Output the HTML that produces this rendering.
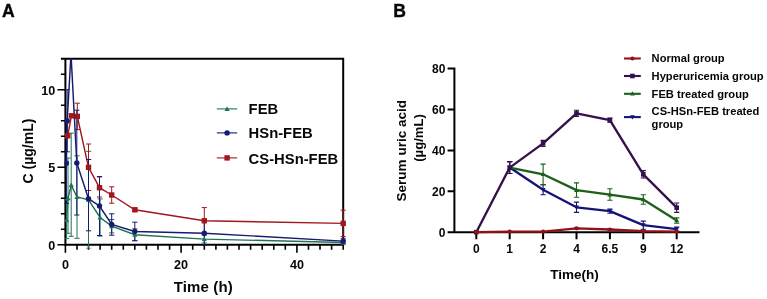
<!DOCTYPE html>
<html lang="en">
<head>
<meta charset="utf-8">
<title>Figure</title>
<style>
html,body{margin:0;padding:0;background:#fff;}
body{width:767px;height:299px;overflow:hidden;}
svg{display:block;}
svg text{font-family:"Liberation Sans",sans-serif;font-weight:bold;fill:#060606;}
</style>
</head>
<body>
<svg width="767" height="299" viewBox="0 0 767 299">
<defs><clipPath id="clipA"><rect x="64.4" y="58.2" width="282.79999999999995" height="190.39999999999998"/></clipPath></defs>
<rect width="767" height="299" fill="#fff"/>
<g id="chartA">
<path d="M65.4 58.7V244.8H343.2V58.7H60.9" fill="none" stroke="#000" stroke-width="2"/>
<path d="M65.4 244.8h-8M65.4 229.3h-4.5M65.4 213.8h-4.5M65.4 198.3h-4.5M65.4 182.8h-4.5M65.4 167.3h-8M65.4 151.8h-4.5M65.4 136.2h-4.5M65.4 120.7h-4.5M65.4 105.2h-4.5M65.4 89.7h-8M65.4 74.2h-4.5" stroke="#000" stroke-width="1.6" fill="none"/>
<path d="M65.4 244.8v8.0M77.0 244.8v4.9M88.5 244.8v4.9M100.1 244.8v4.9M111.7 244.8v4.9M123.3 244.8v4.9M134.8 244.8v4.9M146.4 244.8v4.9M158.0 244.8v4.9M169.6 244.8v4.9M181.1 244.8v8.0M192.7 244.8v4.9M204.3 244.8v4.9M215.9 244.8v4.9M227.4 244.8v4.9M239.0 244.8v4.9M250.6 244.8v4.9M262.2 244.8v4.9M273.8 244.8v4.9M285.3 244.8v4.9M296.9 244.8v8.0M308.5 244.8v4.9M320.0 244.8v4.9M331.6 244.8v4.9M343.2 244.8v4.9" stroke="#000" stroke-width="1.6" fill="none"/>
<g clip-path="url(#clipA)">
<polyline points="66.6,220.0 68.0,198.3 71.2,185.1 77.0,197.0 88.5,199.8 100.1,217.5 111.7,226.2 134.8,234.7 204.3,239.1 343.2,242.5" fill="none" stroke="#23725a" stroke-width="1.45"/>
<path d="M66.6 199.8V238.6M64.0 199.8h5.2M64.0 238.6h5.2" stroke="#23725a" stroke-width="1" fill="none"/>
<path d="M68.0 158.0V233.3M65.4 158.0h5.2M65.4 233.3h5.2" stroke="#23725a" stroke-width="1" fill="none"/>
<path d="M71.2 133.1V236.3M68.6 133.1h5.2M68.6 236.3h5.2" stroke="#23725a" stroke-width="1" fill="none"/>
<path d="M77.0 155.8V238.3M74.4 155.8h5.2M74.4 238.3h5.2" stroke="#23725a" stroke-width="1" fill="none"/>
<path d="M88.5 151.3V248.4M86.0 151.3h5.2M86.0 248.4h5.2" stroke="#23725a" stroke-width="1" fill="none"/>
<path d="M100.1 198.9V236.1M97.5 198.9h5.2M97.5 236.1h5.2" stroke="#23725a" stroke-width="1" fill="none"/>
<path d="M111.7 219.5V232.9M109.1 219.5h5.2M109.1 232.9h5.2" stroke="#23725a" stroke-width="1" fill="none"/>
<path d="M134.8 228.8V240.6M132.2 228.8h5.2M132.2 240.6h5.2" stroke="#23725a" stroke-width="1" fill="none"/>
<path d="M204.3 235.2V242.9M201.7 235.2h5.2M201.7 242.9h5.2" stroke="#23725a" stroke-width="1" fill="none"/>
<path d="M343.2 240.9V244.0M340.6 240.9h5.2M340.6 244.0h5.2" stroke="#23725a" stroke-width="1" fill="none"/>
<polyline points="67.7,135.8 71.4,115.8 77.3,116.4 88.5,167.3 99.5,187.7 111.7,195.0 134.8,209.8 204.3,220.8 343.2,223.4" fill="none" stroke="#a0181c" stroke-width="1.45"/>
<path d="M77.3 103.2V129.6M74.7 103.2h5.2M74.7 129.6h5.2" stroke="#a0181c" stroke-width="1" fill="none"/>
<path d="M88.5 144.0V190.5M86.0 144.0h5.2M86.0 190.5h5.2" stroke="#a0181c" stroke-width="1" fill="none"/>
<path d="M99.5 176.9V197.0M96.9 176.9h5.2M96.9 197.0h5.2" stroke="#a0181c" stroke-width="1" fill="none"/>
<path d="M111.7 186.8V203.2M109.1 186.8h5.2M109.1 203.2h5.2" stroke="#a0181c" stroke-width="1" fill="none"/>
<path d="M134.8 208.2V211.3M132.2 208.2h5.2M132.2 211.3h5.2" stroke="#a0181c" stroke-width="1" fill="none"/>
<path d="M204.3 207.6V233.9M201.7 207.6h5.2M201.7 233.9h5.2" stroke="#a0181c" stroke-width="1" fill="none"/>
<path d="M343.2 210.2V236.6M340.6 210.2h5.2M340.6 236.6h5.2" stroke="#a0181c" stroke-width="1" fill="none"/>
<polyline points="66.4,163.2 67.2,120.7 71.0,54.0 76.8,162.9 88.5,198.7 99.5,206.0 111.7,224.5 134.8,231.5 204.3,233.2 343.2,241.1" fill="none" stroke="#161a72" stroke-width="1.45"/>
<path d="M66.4 122.9V203.5M63.8 122.9h5.2M63.8 203.5h5.2" stroke="#161a72" stroke-width="1" fill="none"/>
<path d="M67.2 89.7V151.8M64.6 89.7h5.2M64.6 151.8h5.2" stroke="#161a72" stroke-width="1" fill="none"/>
<path d="M76.8 110.2V215.0M74.2 110.2h5.2M74.2 215.0h5.2" stroke="#161a72" stroke-width="1" fill="none"/>
<path d="M88.5 159.5V230.8M86.0 159.5h5.2M86.0 230.8h5.2" stroke="#161a72" stroke-width="1" fill="none"/>
<path d="M99.5 176.6V235.5M96.9 176.6h5.2M96.9 235.5h5.2" stroke="#161a72" stroke-width="1" fill="none"/>
<path d="M111.7 213.8V235.2M109.1 213.8h5.2M109.1 235.2h5.2" stroke="#161a72" stroke-width="1" fill="none"/>
<path d="M134.8 222.2V240.8M132.2 222.2h5.2M132.2 240.8h5.2" stroke="#161a72" stroke-width="1" fill="none"/>
<path d="M204.3 220.8V245.0M201.7 220.8h5.2M201.7 245.0h5.2" stroke="#161a72" stroke-width="1" fill="none"/>
<path d="M343.2 238.8V243.4M340.6 238.8h5.2M340.6 243.4h5.2" stroke="#161a72" stroke-width="1" fill="none"/>
<path d="M66.6 217.3l2.6 4.7h-5.2z" fill="#23725a"/>
<path d="M68.0 195.6l2.6 4.7h-5.2z" fill="#23725a"/>
<path d="M71.2 182.4l2.6 4.7h-5.2z" fill="#23725a"/>
<path d="M77.0 194.3l2.6 4.7h-5.2z" fill="#23725a"/>
<path d="M88.5 197.1l2.6 4.7h-5.2z" fill="#23725a"/>
<path d="M100.1 214.8l2.6 4.7h-5.2z" fill="#23725a"/>
<path d="M111.7 223.5l2.6 4.7h-5.2z" fill="#23725a"/>
<path d="M134.8 232.0l2.6 4.7h-5.2z" fill="#23725a"/>
<path d="M204.3 236.4l2.6 4.7h-5.2z" fill="#23725a"/>
<path d="M343.2 239.8l2.6 4.7h-5.2z" fill="#23725a"/>
<circle cx="66.4" cy="163.2" r="2.7" fill="#161a72"/>
<circle cx="67.2" cy="120.7" r="2.7" fill="#161a72"/>
<circle cx="71.0" cy="54.0" r="2.7" fill="#161a72"/>
<circle cx="76.8" cy="162.9" r="2.7" fill="#161a72"/>
<circle cx="88.5" cy="198.7" r="2.7" fill="#161a72"/>
<circle cx="99.5" cy="206.0" r="2.7" fill="#161a72"/>
<circle cx="111.7" cy="224.5" r="2.7" fill="#161a72"/>
<circle cx="134.8" cy="231.5" r="2.7" fill="#161a72"/>
<circle cx="204.3" cy="233.2" r="2.7" fill="#161a72"/>
<circle cx="343.2" cy="241.1" r="2.7" fill="#161a72"/>
<rect x="65.0" y="133.1" width="5.4" height="5.4" fill="#a0181c"/>
<rect x="68.7" y="113.1" width="5.4" height="5.4" fill="#a0181c"/>
<rect x="74.6" y="113.7" width="5.4" height="5.4" fill="#a0181c"/>
<rect x="85.8" y="164.6" width="5.4" height="5.4" fill="#a0181c"/>
<rect x="96.8" y="185.0" width="5.4" height="5.4" fill="#a0181c"/>
<rect x="109.0" y="192.3" width="5.4" height="5.4" fill="#a0181c"/>
<rect x="132.2" y="207.1" width="5.4" height="5.4" fill="#a0181c"/>
<rect x="201.6" y="218.1" width="5.4" height="5.4" fill="#a0181c"/>
<rect x="340.5" y="220.7" width="5.4" height="5.4" fill="#a0181c"/>
</g>
<text x="55.3" y="249.9" text-anchor="end" font-size="12.6">0</text>
<text x="55.3" y="172.4" text-anchor="end" font-size="12.6">5</text>
<text x="55.3" y="94.8" text-anchor="end" font-size="12.6">10</text>
<text x="65.4" y="268.6" text-anchor="middle" font-size="12.6">0</text>
<text x="181.1" y="268.6" text-anchor="middle" font-size="12.6">20</text>
<text x="296.9" y="268.6" text-anchor="middle" font-size="12.6">40</text>
<text x="203.3" y="292" text-anchor="middle" font-size="15" letter-spacing="0.15">Time (h)</text>
<text transform="translate(33.2 151) rotate(-90)" text-anchor="middle" font-size="14">C (µg/mL)</text>
<path d="M216.8 108.9H237.2" stroke="#23725a" stroke-width="1.1"/>
<path d="M227.1 106.2l2.6 4.7h-5.2z" fill="#23725a"/>
<text x="248.6" y="114.3" font-size="14.8">FEB</text>
<path d="M216.8 132.9H237.2" stroke="#161a72" stroke-width="1.1"/>
<circle cx="227.1" cy="132.9" r="2.7" fill="#161a72"/>
<text x="248.6" y="137.9" font-size="14.8">HSn-FEB</text>
<path d="M216.8 157.9H237.2" stroke="#a0181c" stroke-width="1.1"/>
<rect x="224.4" y="155.2" width="5.4" height="5.4" fill="#a0181c"/>
<text x="248.6" y="163.7" font-size="14.8">CS-HSn-FEB</text>
<text x="2" y="17.1" font-size="17.6" stroke="#060606" stroke-width="0.35">A</text>
</g>
<g id="chartB">
<path d="M447.6 68.6H454.4V232.2M447.6 232.2H699.5" fill="none" stroke="#000" stroke-width="2"/>
<path d="M454.4 191.3h-6.8M454.4 150.4h-6.8M454.4 109.5h-6.8M476.3 232.2v7M509.7 232.2v7M543.1 232.2v7M576.5 232.2v7M609.9 232.2v7M643.3 232.2v7M676.7 232.2v7" stroke="#000" stroke-width="2" fill="none"/>
<polyline points="509.7,167.6 543.1,189.7 576.5,207.3 609.9,211.1 643.3,225.1 676.7,229.1" fill="none" stroke="#141478" stroke-width="2.35" stroke-linejoin="round"/>
<path d="M509.7 161.6V173.5M507.1 161.6h5.2M507.1 173.5h5.2" stroke="#141478" stroke-width="1.1" fill="none"/>
<path d="M543.1 184.6V194.8M540.5 184.6h5.2M540.5 194.8h5.2" stroke="#141478" stroke-width="1.1" fill="none"/>
<path d="M576.5 202.1V212.4M573.9 202.1h5.2M573.9 212.4h5.2" stroke="#141478" stroke-width="1.1" fill="none"/>
<path d="M609.9 209.1V213.2M607.3 209.1h5.2M607.3 213.2h5.2" stroke="#141478" stroke-width="1.1" fill="none"/>
<path d="M643.3 221.1V229.2M640.7 221.1h5.2M640.7 229.2h5.2" stroke="#141478" stroke-width="1.1" fill="none"/>
<path d="M676.7 227.1V231.2M674.1 227.1h5.2M674.1 231.2h5.2" stroke="#141478" stroke-width="1.1" fill="none"/>
<path d="M507.3 165.8h4.8l-2.4 4.2z" fill="#141478"/>
<path d="M540.7 187.9h4.8l-2.4 4.2z" fill="#141478"/>
<path d="M574.1 205.5h4.8l-2.4 4.2z" fill="#141478"/>
<path d="M607.5 209.3h4.8l-2.4 4.2z" fill="#141478"/>
<path d="M640.9 223.3h4.8l-2.4 4.2z" fill="#141478"/>
<path d="M674.3 227.3h4.8l-2.4 4.2z" fill="#141478"/>
<polyline points="509.7,167.6 543.1,174.3 576.5,190.1 609.9,194.6 643.3,199.5 676.7,220.5" fill="none" stroke="#1c601c" stroke-width="2.35" stroke-linejoin="round"/>
<path d="M509.7 161.6V173.5M507.1 161.6h5.2M507.1 173.5h5.2" stroke="#1c601c" stroke-width="1.1" fill="none"/>
<path d="M543.1 164.1V184.6M540.5 164.1h5.2M540.5 184.6h5.2" stroke="#1c601c" stroke-width="1.1" fill="none"/>
<path d="M576.5 182.9V197.2M573.9 182.9h5.2M573.9 197.2h5.2" stroke="#1c601c" stroke-width="1.1" fill="none"/>
<path d="M609.9 188.8V200.3M607.3 188.8h5.2M607.3 200.3h5.2" stroke="#1c601c" stroke-width="1.1" fill="none"/>
<path d="M643.3 194.8V204.2M640.7 194.8h5.2M640.7 204.2h5.2" stroke="#1c601c" stroke-width="1.1" fill="none"/>
<path d="M676.7 217.9V223.2M674.1 217.9h5.2M674.1 223.2h5.2" stroke="#1c601c" stroke-width="1.1" fill="none"/>
<path d="M509.7 165.0l2.5 4.4h-5z" fill="#1c601c"/>
<path d="M543.1 171.7l2.5 4.4h-5z" fill="#1c601c"/>
<path d="M576.5 187.5l2.5 4.4h-5z" fill="#1c601c"/>
<path d="M609.9 192.0l2.5 4.4h-5z" fill="#1c601c"/>
<path d="M643.3 196.9l2.5 4.4h-5z" fill="#1c601c"/>
<path d="M676.7 217.9l2.5 4.4h-5z" fill="#1c601c"/>
<polyline points="476.3,232.2 509.7,167.6 543.1,143.4 576.5,113.4 609.9,120.1 643.3,174.3 676.7,207.7" fill="none" stroke="#35104a" stroke-width="2.35" stroke-linejoin="round"/>
<path d="M509.7 161.6V173.5M507.1 161.6h5.2M507.1 173.5h5.2" stroke="#35104a" stroke-width="1.1" fill="none"/>
<path d="M543.1 140.4V146.5M540.5 140.4h5.2M540.5 146.5h5.2" stroke="#35104a" stroke-width="1.1" fill="none"/>
<path d="M576.5 110.3V116.5M573.9 110.3h5.2M573.9 116.5h5.2" stroke="#35104a" stroke-width="1.1" fill="none"/>
<path d="M609.9 118.1V122.2M607.3 118.1h5.2M607.3 122.2h5.2" stroke="#35104a" stroke-width="1.1" fill="none"/>
<path d="M643.3 170.6V178.0M640.7 170.6h5.2M640.7 178.0h5.2" stroke="#35104a" stroke-width="1.1" fill="none"/>
<path d="M676.7 203.0V212.4M674.1 203.0h5.2M674.1 212.4h5.2" stroke="#35104a" stroke-width="1.1" fill="none"/>
<rect x="474.0" y="229.9" width="4.6" height="4.6" fill="#35104a"/>
<rect x="507.4" y="165.3" width="4.6" height="4.6" fill="#35104a"/>
<rect x="540.8" y="141.1" width="4.6" height="4.6" fill="#35104a"/>
<rect x="574.2" y="111.1" width="4.6" height="4.6" fill="#35104a"/>
<rect x="607.6" y="117.8" width="4.6" height="4.6" fill="#35104a"/>
<rect x="641.0" y="172.0" width="4.6" height="4.6" fill="#35104a"/>
<rect x="674.4" y="205.4" width="4.6" height="4.6" fill="#35104a"/>
<polyline points="476.3,232.2 509.7,231.6 543.1,231.6 576.5,228.3 609.9,229.5 643.3,231.2 676.7,231.6" fill="none" stroke="#931216" stroke-width="2.35" stroke-linejoin="round"/>
<path d="M576.5 227.7V228.9M573.9 227.7h5.2M573.9 228.9h5.2" stroke="#931216" stroke-width="1.1" fill="none"/>
<path d="M609.9 228.9V230.2M607.3 228.9h5.2M607.3 230.2h5.2" stroke="#931216" stroke-width="1.1" fill="none"/>
<path d="M643.3 230.8V231.6M640.7 230.8h5.2M640.7 231.6h5.2" stroke="#931216" stroke-width="1.1" fill="none"/>
<path d="M676.7 231.4V231.8M674.1 231.4h5.2M674.1 231.8h5.2" stroke="#931216" stroke-width="1.1" fill="none"/>
<circle cx="476.3" cy="232.2" r="2.1" fill="#931216"/>
<circle cx="509.7" cy="231.6" r="2.1" fill="#931216"/>
<circle cx="543.1" cy="231.6" r="2.1" fill="#931216"/>
<circle cx="576.5" cy="228.3" r="2.1" fill="#931216"/>
<circle cx="609.9" cy="229.5" r="2.1" fill="#931216"/>
<circle cx="643.3" cy="231.2" r="2.1" fill="#931216"/>
<circle cx="676.7" cy="231.6" r="2.1" fill="#931216"/>
<text x="445.4" y="236.5" text-anchor="end" font-size="12">0</text>
<text x="445.4" y="195.6" text-anchor="end" font-size="12">20</text>
<text x="445.4" y="154.7" text-anchor="end" font-size="12">40</text>
<text x="445.4" y="113.8" text-anchor="end" font-size="12">60</text>
<text x="445.4" y="72.9" text-anchor="end" font-size="12">80</text>
<text x="476.3" y="252.8" text-anchor="middle" font-size="12">0</text>
<text x="509.7" y="252.8" text-anchor="middle" font-size="12">1</text>
<text x="543.1" y="252.8" text-anchor="middle" font-size="12">2</text>
<text x="576.5" y="252.8" text-anchor="middle" font-size="12">4</text>
<text x="609.9" y="252.8" text-anchor="middle" font-size="12">6.5</text>
<text x="643.3" y="252.8" text-anchor="middle" font-size="12">9</text>
<text x="676.7" y="252.8" text-anchor="middle" font-size="12">12</text>
<text x="574.4" y="278.6" text-anchor="middle" font-size="13.5">Time(h)</text>
<text transform="translate(406.1 150.7) rotate(-90)" text-anchor="middle" font-size="13.55">Serum uric acid</text>
<text transform="translate(423.3 138) rotate(-90)" text-anchor="middle" font-size="13.1">(µg/mL)</text>
<path d="M624 58.5H640.8" stroke="#931216" stroke-width="2.1"/>
<circle cx="632.4" cy="58.5" r="2.1" fill="#931216"/>
<text x="651.6" y="62.2" font-size="11.15">Normal group</text>
<path d="M624 76.0H640.8" stroke="#35104a" stroke-width="2.1"/>
<rect x="630.1" y="73.7" width="4.6" height="4.6" fill="#35104a"/>
<text x="651.6" y="79.6" font-size="11.15">Hyperuricemia group</text>
<path d="M624 93.8H640.8" stroke="#1c601c" stroke-width="2.1"/>
<path d="M632.4 91.2l2.5 4.4h-5z" fill="#1c601c"/>
<text x="651.6" y="97.5" font-size="11.15">FEB treated group</text>
<path d="M624 117.1H640.8" stroke="#141478" stroke-width="2.1"/>
<path d="M630.0 115.3h4.8l-2.4 4.2z" fill="#141478"/>
<text x="651.6" y="114.8" font-size="11.15">CS-HSn-FEB treated</text>
<text x="651.6" y="128" font-size="11.15">group</text>
<text x="393.2" y="17.1" font-size="17.6" stroke="#060606" stroke-width="0.35">B</text>
</g>
</svg>
</body>
</html>
